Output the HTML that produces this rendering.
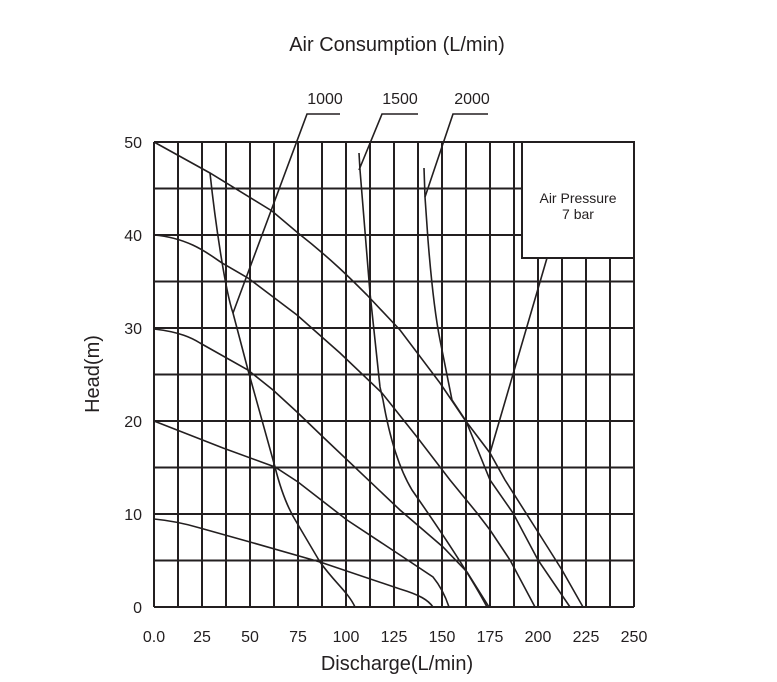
<!DOCTYPE html>
<html><head><style>body{margin:0;background:#fff}svg{display:block}text{font-family:"Liberation Sans",sans-serif;fill:#231f20}</style></head>
<body>
<svg width="777" height="682" viewBox="0 0 777 682">
<rect width="777" height="682" fill="#fff"/>
<g stroke="#231f20" stroke-width="2" fill="none">
<path d="M154,142V607M178,142V607M202,142V607M226,142V607M250,142V607M274,142V607M298,142V607M322,142V607M346,142V607M370,142V607M394,142V607M418,142V607M442,142V607M466,142V607M490,142V607M514,142V607M538,142V607M562,142V607M586,142V607M610,142V607M634,142V607M154,142H634M154,188.5H634M154,235H634M154,281.5H634M154,328H634M154,374.5H634M154,421H634M154,467.5H634M154,514H634M154,560.5H634M154,607H634"/>
</g>
<rect x="522" y="142" width="112" height="116" fill="#fff" stroke="#231f20" stroke-width="2"/>
<g stroke="#231f20" stroke-width="1.6" fill="none">
<path d="M154,142 L210,173 L272,211 L298,233 C330,258 350,278 367,295 L400,330 L440,383 L465,420 L490,453 L505,480 L538,532 L562,570 L583,607"/>
<path d="M154,235 C190,238 210,255 222,263 L248,278 L297,315 L340,353 L382,393 L417,437 L450,480 L477,513 L490,530 L510,560 L535,607"/>
<path d="M154,329 C180,332 192,338 200,343 L248,370 L273,390 L297,412 L323,437 L400,510 L443,547 L467,572 L489,607"/>
<path d="M154,421 L223,448 L275,467 L298,482 L347,520 L400,555 L433,577 C442,588 446,598 449,607"/>
<path d="M154,519 C175,521 190,525 200,528 L250,542 L320,562 L400,589 C420,595 428,600 433,607"/>
<path d="M210,173 C215,220 225,290 233,313 L248,370 L275,467 C282,495 290,512 297,523 L320,562 C335,583 348,592 355,607"/>
<path d="M359,153 L360,170 C364,220 367,260 370,293 L380,387 L383,400 C390,440 400,470 412,490 C440,530 470,575 487,607"/>
<path d="M424,168 L425,197 L428,240 C432,290 436,320 440,340 L452,400 L466,421 L490,480 L513,513 L538,560 L570,607"/>
<path d="M340,114 H307 L233,313"/>
<path d="M418,114 H382 L359,170"/>
<path d="M488,114 H453 L425,197"/>
<path d="M547,258 L490,453"/>
</g>
<text x="397" y="51" font-size="20" text-anchor="middle">Air Consumption (L/min)</text>
<text x="325" y="104" font-size="16" text-anchor="middle">1000</text>
<text x="400" y="104" font-size="16" text-anchor="middle">1500</text>
<text x="472" y="104" font-size="16" text-anchor="middle">2000</text>
<text x="578" y="203" font-size="14" text-anchor="middle">Air Pressure</text>
<text x="578" y="219" font-size="14" text-anchor="middle">7 bar</text>
<g font-size="16" text-anchor="end">
<text x="142" y="148">50</text><text x="142" y="241">40</text><text x="142" y="334">30</text><text x="142" y="427">20</text><text x="142" y="520">10</text><text x="142" y="613">0</text>
</g>
<g font-size="16" text-anchor="middle">
<text x="154" y="642">0.0</text><text x="202" y="642">25</text><text x="250" y="642">50</text><text x="298" y="642">75</text><text x="346" y="642">100</text><text x="394" y="642">125</text><text x="442" y="642">150</text><text x="490" y="642">175</text><text x="538" y="642">200</text><text x="586" y="642">225</text><text x="634" y="642">250</text>
</g>
<text x="397" y="670" font-size="20" text-anchor="middle">Discharge(L/min)</text>
<text x="0" y="0" font-size="20" text-anchor="middle" transform="translate(99,374) rotate(-90)">Head(m)</text>
</svg>
</body></html>
